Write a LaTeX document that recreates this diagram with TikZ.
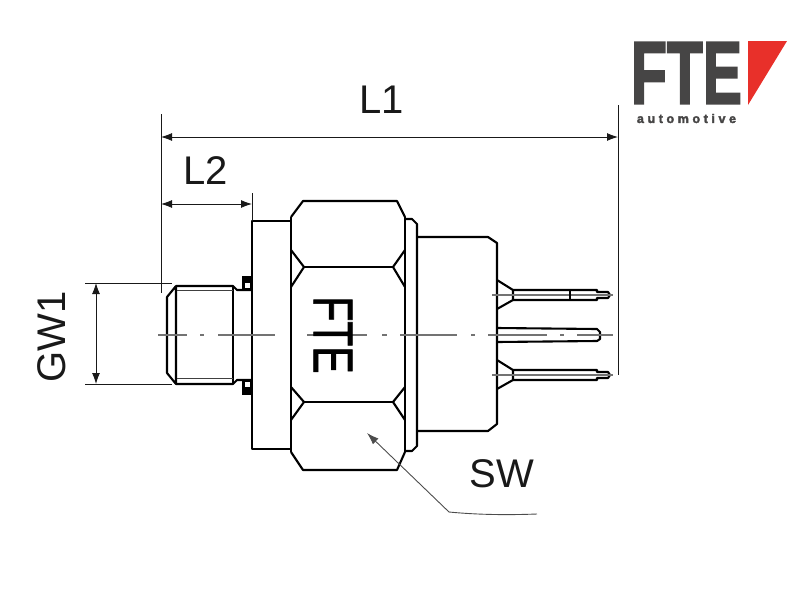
\documentclass[tikz,border=0pt]{standalone}
\usepackage{fontspec}
\setmainfont{Liberation Sans}
\newfontfamily\logofont[FakeBold=2.5]{Liberation Sans Bold}
\newfontfamily\markfont[FakeBold=1.5]{Liberation Sans}
\usetikzlibrary{arrows.meta}
\definecolor{logogray}{HTML}{464545}
\definecolor{logored}{HTML}{E8302A}
\tikzset{
    body/.style={black, line width=2.1pt, line join=round},
    thinbody/.style={black!75, line width=1pt},
    dimline/.style={black!90, line width=0.9pt},
    dimarrow/.style={dimline, {Latex[length=11pt,width=8pt]}-{Latex[length=11pt,width=8pt]}},
    axisline/.style={black!55, line width=1.1pt},
    dimtext/.style={font=\fontsize{40}{40}\selectfont, inner sep=0pt, black!90},
}
\begin{document}
\begin{tikzpicture}[x=1pt, y=-1pt]
    \useasboundingbox (0,0) rectangle (800,600);

    \coordinate (LeftTop) at (161,114);
    \coordinate (LeftLow) at (161,293);
    \coordinate (RightTop) at (618,105);
    \coordinate (RightLow) at (618,375);
    \coordinate (FlangeTop) at (252,193);
    \coordinate (FlangeLow) at (252,221);
    \coordinate (L1a) at (161,137);
    \coordinate (L1b) at (618,137);
    \coordinate (L2a) at (161,204);
    \coordinate (L2b) at (252,204);
    \coordinate (GWtopA) at (85,283);
    \coordinate (GWtopB) at (172,283);
    \coordinate (GWlowA) at (85,384);
    \coordinate (GWlowB) at (172,384);
    \coordinate (GWa) at (96,283);
    \coordinate (GWb) at (96,384);
    \coordinate (SWtip) at (367,433);
    \coordinate (SWknee) at (449,512);
    \coordinate (SWend) at (537,514);

    % thread and neck
    \draw[body] (176,286) -- (233,286) -- (237,290) -- (252,290);
    \draw[body] (176,384) -- (233,384) -- (237,380) -- (252,380);
    \draw[body] (176,286) -- (167,297) -- (167,373) -- (176,384) -- cycle;
    \draw[body] (233,286) -- (233,384);
    \draw[thinbody] (177,290) -- (233,290);
    \draw[thinbody] (177,378) -- (233,378);
    \fill[black] (242,276) rectangle (252,290);
    \fill[black] (242,380) rectangle (252,395);
    \fill[white] (245,283) rectangle (250,288);
    \fill[white] (245,382) rectangle (250,387);

    % flange, hexagon, washer, housing
    \draw[body] (291,221) -- (252,221) -- (252,449) -- (291,449);
    \draw[body] (291,217) -- (291,452);
    \draw[body] (405,217) -- (405,452);
    \draw[body] (291,217) -- (303,201) -- (397,201) -- (405,217);
    \draw[body] (291,452) -- (303,470) -- (397,470) -- (405,452);
    \foreach \ya/\yb/\yc in {250/267/287, 387/402/420} {
        \draw[body] (291,\ya) -- (304,\yb) -- (291,\yc);
        \draw[body] (405,\ya) -- (393,\yb) -- (405,\yc);
        \draw[body] (304,\yb) -- (393,\yb);
    }
    \draw[body] (405,219) -- (412,219) -- (417,224) -- (417,446) -- (412,451) -- (405,451);
    \draw[body] (417,237) -- (488,237) -- (497,243) -- (497,424) -- (488,431) -- (417,431);

    % pins
    \foreach \py in {295,375} {
        \draw[body] (497,\py-15) -- (513,\py-5) -- (513,\py+5) -- (497,\py+14);
        \draw[body] (513,\py-5) -- (597,\py-5) -- (597,\py-3) -- (608,\py-3)
            -- (610,\py) -- (608,\py+3) -- (597,\py+3) -- (597,\py+5) -- (513,\py+5);
        \draw[axisline] (492,\py) -- (613,\py);
    }
    \draw[body] (570,290) -- (570,300);
    \draw[body] (497,328) -- (597,329) -- (600,332) -- (600,339) -- (597,341) -- (497,342);

    % centre line
    \foreach \xa/\xb in {158/187, 200/204, 218/275, 307/367, 382/387, 400/457, 471/475, 488/547, 560/564, 577/613} {
        \draw[axisline] (\xa,335) -- (\xb,335);
    }

    % dimensions
    \draw[dimline] (LeftTop) -- (LeftLow);
    \draw[dimline] (RightTop) -- (RightLow);
    \draw[dimline] (FlangeTop) -- (FlangeLow);
    \draw[dimline] (GWtopA) -- (GWtopB);
    \draw[dimline] (GWlowA) -- (GWlowB);
    \draw[dimarrow] (L1a) -- (L1b);
    \draw[dimarrow] (L2a) -- (L2b);
    \draw[dimarrow] (GWa) -- (GWb);
    \draw[dimline, black!70, -{Latex[length=12pt,width=8pt]}] (SWknee) -- (SWtip);
    \draw[dimline, black!70] (SWknee) .. controls (480,515) and (510,515) .. (SWend);

    \node[dimtext] (L1text) at (382,100) {L1};
    \node[dimtext] (L2text) at (206,171) {L2};
    \node[dimtext, rotate=90] (GWtext) at (52,337) {GW1};
    \node[dimtext] (SWtext) at (502,474) {SW};
    \node[font=\markfont\fontsize{56}{56}\selectfont, inner sep=0pt, black, rotate=-90, xscale=0.73] (FTEbody) at (333,335) {FTE};

    % logo
    \node[font=\logofont\fontsize{64}{64}\selectfont, inner sep=0pt, logogray, xscale=0.918, yscale=1.39] (FTElogo) at (686.5,73) {FTE};
    \fill[logored] (748,41) -- (787,41) -- (748,105) -- cycle;
    \node[font=\logofont\fontsize{12.5}{12.5}\selectfont, inner sep=0pt, logogray] (AutoLogo) at (686.5,118.5) {a\hspace{3.6pt}u\hspace{3.6pt}t\hspace{3.6pt}o\hspace{3.6pt}m\hspace{3.6pt}o\hspace{3.6pt}t\hspace{3.6pt}i\hspace{3.6pt}v\hspace{3.6pt}e};
\end{tikzpicture}
\end{document}
